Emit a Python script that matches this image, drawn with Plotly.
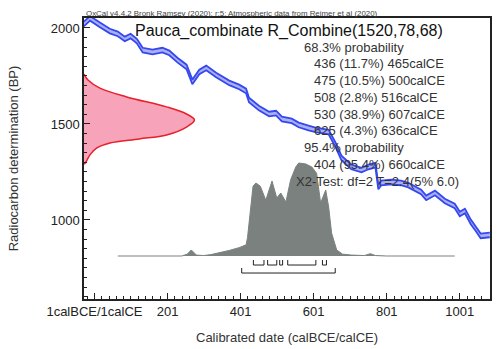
import plotly.graph_objects as go

# IntCal20 calibration curve (centre line), calendar year vs radiocarbon age
curve_year = [-28, -11, 16, 43, 65, 84, 100, 117, 133, 160, 187, 206, 228, 253, 269, 288,
              307, 334, 370, 397, 416, 424, 451, 479, 498, 514, 541, 560, 587, 606, 642,
              661, 677, 704, 732, 751, 770, 778, 786, 813, 840, 860, 895, 909, 933, 960,
              987, 1001, 1015, 1031, 1045, 1058, 1083]
curve_bp = [2021, 2050, 2016, 1984, 1969, 1943, 1958, 1932, 1885, 1875, 1885, 1870, 1833,
            1797, 1719, 1771, 1792, 1755, 1714, 1693, 1672, 1625, 1583, 1552, 1557, 1526,
            1516, 1495, 1479, 1469, 1458, 1391, 1323, 1276, 1260, 1276, 1286, 1172, 1193,
            1198, 1193, 1182, 1146, 1115, 1141, 1099, 1073, 1031, 1047, 990, 953, 917, 922]
curve_sigma = 12

# Combined radiocarbon likelihood (BP vs relative density)
r_bp = [1760, 1729, 1687, 1641, 1589, 1552, 1521, 1484, 1443, 1422, 1401, 1375, 1339, 1302, 1290]
r_dens = [0.0, 0.036, 0.144, 0.387, 0.748, 0.928, 1.0, 0.928, 0.748, 0.50, 0.234, 0.117,
          0.054, 0.018, 0.0]

# Calibrated posterior (calendar year vs relative probability)
cal_year = [65, 240, 255, 266, 280, 300, 320, 350, 370, 397, 410, 416, 420, 428, 435, 443,
            455, 470, 487, 500, 511, 525, 538, 552, 560, 579, 596, 609, 620, 634, 642, 650,
            664, 680, 704, 740, 756, 770, 800, 987]
cal_prob = [0, 0, 0.02, 0.065, 0.01, 0.005, 0.015, 0.04, 0.06, 0.09, 0.11, 0.12, 0.2, 0.5,
            0.75, 0.785, 0.75, 0.6, 0.806, 0.624, 0.677, 0.58, 0.82, 0.957, 1.0, 0.99, 0.957,
            0.89, 0.57, 0.71, 0.527, 0.247, 0.065, 0.02, 0.01, 0.005, 0.025, 0.005, 0, 0]

# Highest posterior density ranges
hpd68 = [(436, 465), (475, 500), (508, 516), (530, 607), (625, 636)]
hpd95 = [(404, 660)]

title = "Pauca_combinate R_Combine(1520,78,68)"
header = "OxCal v4.4.2 Bronk Ramsey (2020); r:5; Atmospheric data from Reimer et al (2020)"
summary = [
    ("68.3% probability", 303),
    ("436 (11.7%) 465calCE", 313),
    ("475 (10.5%) 500calCE", 313),
    ("508 (2.8%) 516calCE", 313),
    ("530 (38.9%) 607calCE", 313),
    ("625 (4.3%) 636calCE", 313),
    ("95.4% probability", 303),
    ("404 (95.4%) 660calCE", 313),
    ("X2-Test: df=2 T=2.4(5% 6.0)", 295),
]

x_ticks = [1, 201, 401, 601, 801, 1001]
x_ticktext = ["1calBCE/1calCE", "201", "401", "601", "801", "1001"]
y_ticks = [1000, 1500, 2000]

FONT = "Liberation Sans, Arial, sans-serif"
W, H = 500, 349
L, R, T, B = 84, 8, 18, 50
PW, PH = W - L - R, H - T - B


def px_to_paper(px, py):
    return (px - L) / PW, (H - B - py) / PH


def bracket_path(ranges, y_line, y_tick):
    xs, ys = [], []
    for a, b in ranges:
        xs += [a, a, b, b, None]
        ys += [y_tick, y_line, y_line, y_tick, None]
    return xs, ys


fig = go.Figure()

# radiocarbon likelihood along the y axis
fig.add_trace(go.Scatter(x=r_dens, y=r_bp, xaxis="x2", yaxis="y", mode="lines",
                         line=dict(color="#e8202a", width=1.5, shape="spline"),
                         fill="tozerox", fillcolor="#f7a3ba", hoverinfo="skip"))

# calibration curve band
upper = [v + curve_sigma for v in curve_bp]
lower = [v - curve_sigma for v in curve_bp]
fig.add_trace(go.Scatter(x=curve_year, y=upper, mode="lines",
                         line=dict(color="#3447f0", width=1.8), hoverinfo="skip"))
fig.add_trace(go.Scatter(x=curve_year, y=lower, mode="lines",
                         line=dict(color="#3447f0", width=1.8),
                         fill="tonexty", fillcolor="#aab0f2", hoverinfo="skip"))

# calibrated distribution
fig.add_trace(go.Scatter(x=cal_year, y=cal_prob, xaxis="x", yaxis="y2", mode="lines",
                         line=dict(color="#7b817e", width=1),
                         fill="tozeroy", fillcolor="#7b817e", hoverinfo="skip"))

# HPD range brackets
bx, by = bracket_path(hpd68, -0.097, -0.043)
fig.add_trace(go.Scatter(x=bx, y=by, xaxis="x", yaxis="y2", mode="lines",
                         line=dict(color="#222222", width=1), hoverinfo="skip"))
bx, by = bracket_path(hpd95, -0.183, -0.129)
fig.add_trace(go.Scatter(x=bx, y=by, xaxis="x", yaxis="y2", mode="lines",
                         line=dict(color="#222222", width=1), hoverinfo="skip"))

annotations = []
hx, hy = px_to_paper(84, 13.5)
annotations.append(dict(text=header, x=hx, y=hy, xref="paper", yref="paper",
                        xanchor="left", yanchor="middle", showarrow=False,
                        font=dict(family=FONT, size=7.9, color="#444444")))
tx, ty = px_to_paper(133, 31)
annotations.append(dict(text=title, x=tx, y=ty, xref="paper", yref="paper",
                        xanchor="left", yanchor="middle", showarrow=False,
                        font=dict(family=FONT, size=16, color="#111111")))
for i, (txt, left) in enumerate(summary):
    ax_, ay_ = px_to_paper(left, 47 + 16.75 * i)
    annotations.append(dict(text=txt, x=ax_, y=ay_, xref="paper", yref="paper",
                            xanchor="left", yanchor="middle", showarrow=False,
                            font=dict(family=FONT, size=13, color="#333333")))
# axis titles
ax_, ay_ = px_to_paper(288, 337)
annotations.append(dict(text="Calibrated date (calBCE/calCE)", x=ax_, y=ay_, xref="paper",
                        yref="paper", xanchor="center", yanchor="middle", showarrow=False,
                        font=dict(family=FONT, size=13, color="#333333")))
ax_, ay_ = px_to_paper(13, 158)
annotations.append(dict(text="Radiocarbon determination (BP)", x=ax_, y=ay_, xref="paper",
                        yref="paper", xanchor="center", yanchor="middle", showarrow=False,
                        textangle=-90, font=dict(family=FONT, size=13, color="#333333")))

fig.update_layout(
    width=W, height=H, margin=dict(l=L, r=R, t=T, b=B),
    paper_bgcolor="white", plot_bgcolor="white", showlegend=False,
    font=dict(family=FONT, size=13, color="#222222"),
    annotations=annotations,
    xaxis=dict(range=[-27.6, 1083.6], tickmode="array", tickvals=x_ticks,
               ticktext=x_ticktext, ticks="inside", ticklen=6, tickwidth=1,
               tickcolor="#222222", showline=True, linecolor="#222222", linewidth=1.5,
               mirror=True, showgrid=False, zeroline=False,
               minor=dict(tickmode="linear", tick0=1, dtick=20, ticks="inside",
                          ticklen=3, tickcolor="#222222", showgrid=False),
               tickfont=dict(family=FONT, size=13, color="#222222")),
    yaxis=dict(range=[588.5, 2052], tickmode="array", tickvals=y_ticks,
               ticks="inside", ticklen=6, tickwidth=1, tickcolor="#222222",
               showline=True, linecolor="#222222", linewidth=1.5, mirror=True,
               showgrid=False, zeroline=False,
               minor=dict(tickmode="linear", tick0=0, dtick=50, ticks="inside",
                          ticklen=3, tickcolor="#222222", showgrid=False),
               tickfont=dict(family=FONT, size=13, color="#222222")),
    xaxis2=dict(overlaying="x", range=[0, PW / 111], visible=False),
    yaxis2=dict(overlaying="y", range=[-(299 - 256) / 93, (256 - 18) / 93], visible=False),
)

fig.write_html("out.html")
